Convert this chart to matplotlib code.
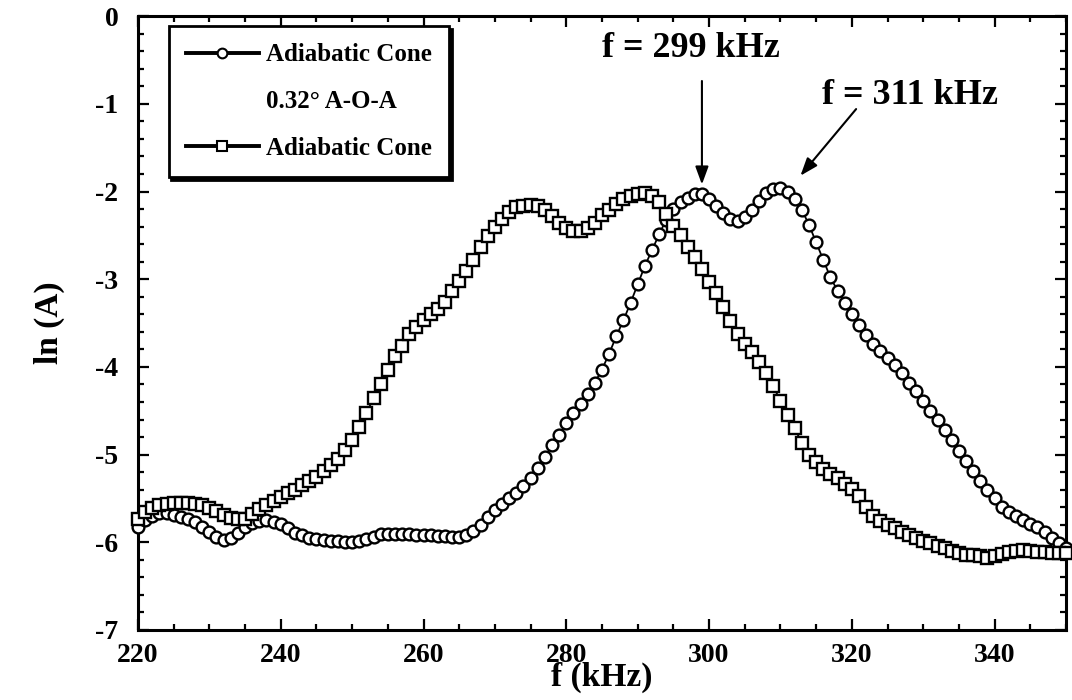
import numpy as np
import matplotlib
matplotlib.use("Agg")
import matplotlib.pyplot as plt
from matplotlib.lines import Line2D
from matplotlib.ticker import MultipleLocator

plt.rcParams['font.family'] = ['Liberation Serif', 'DejaVu Serif']
plt.rcParams['font.weight'] = 'bold'
plt.rcParams['axes.labelweight'] = 'bold'
plt.rcParams['axes.unicode_minus'] = False

# frequency sweep, 1 kHz steps
freq_khz = np.arange(220, 351)

# ln of amplitude, cone with 0.32 deg angle of attack (circles)
ln_amp_aoa = [
    -5.82, -5.75, -5.70, -5.67, -5.67, -5.69, -5.71, -5.73, -5.77, -5.82,
    -5.88, -5.94, -5.97, -5.95, -5.89, -5.83, -5.78, -5.76, -5.75, -5.77,
    -5.79, -5.84, -5.89, -5.92, -5.95, -5.96, -5.97, -5.98, -5.99, -6.00,
    -6.00, -5.99, -5.96, -5.94, -5.91, -5.91, -5.91, -5.91, -5.91, -5.92,
    -5.92, -5.92, -5.93, -5.93, -5.94, -5.94, -5.92, -5.87, -5.80, -5.71,
    -5.63, -5.56, -5.50, -5.44, -5.36, -5.27, -5.15, -5.03, -4.89, -4.78,
    -4.64, -4.53, -4.42, -4.31, -4.18, -4.03, -3.85, -3.65, -3.47, -3.27,
    -3.06, -2.85, -2.67, -2.49, -2.32, -2.20, -2.12, -2.07, -2.03, -2.03,
    -2.08, -2.16, -2.25, -2.31, -2.34, -2.29, -2.21, -2.11, -2.02, -1.97,
    -1.96, -2.01, -2.08, -2.21, -2.38, -2.58, -2.78, -2.98, -3.13, -3.27,
    -3.40, -3.52, -3.64, -3.74, -3.82, -3.90, -3.98, -4.07, -4.18, -4.28,
    -4.39, -4.50, -4.61, -4.72, -4.83, -4.96, -5.07, -5.19, -5.30, -5.40,
    -5.50, -5.60, -5.66, -5.70, -5.75, -5.79, -5.83, -5.88, -5.95, -6.01,
    -6.06,
]

# ln of amplitude, cone at zero angle (squares)
ln_amp_cone = [
    -5.74, -5.66, -5.61, -5.58, -5.56, -5.55, -5.55, -5.55, -5.56, -5.58,
    -5.61, -5.64, -5.69, -5.72, -5.74, -5.73, -5.68, -5.62, -5.57, -5.53,
    -5.48, -5.44, -5.40, -5.35, -5.30, -5.25, -5.19, -5.12, -5.05, -4.95,
    -4.83, -4.68, -4.52, -4.36, -4.20, -4.04, -3.88, -3.76, -3.63, -3.54,
    -3.47, -3.40, -3.34, -3.26, -3.13, -3.02, -2.91, -2.78, -2.63, -2.51,
    -2.41, -2.31, -2.23, -2.18, -2.16, -2.15, -2.17, -2.21, -2.28, -2.36,
    -2.42, -2.45, -2.45, -2.42, -2.36, -2.27, -2.21, -2.14, -2.09, -2.05,
    -2.03, -2.02, -2.05, -2.12, -2.26, -2.39, -2.50, -2.63, -2.75, -2.88,
    -3.03, -3.16, -3.32, -3.48, -3.63, -3.74, -3.83, -3.94, -4.07, -4.22,
    -4.39, -4.55, -4.70, -4.87, -5.00, -5.08, -5.16, -5.22, -5.27, -5.33,
    -5.39, -5.47, -5.60, -5.70, -5.76, -5.80, -5.84, -5.88, -5.92, -5.95,
    -5.98, -6.01, -6.04, -6.07, -6.10, -6.12, -6.14, -6.15, -6.16, -6.18,
    -6.16, -6.13, -6.11, -6.10, -6.09, -6.10, -6.11, -6.11, -6.12, -6.12,
    -6.12,
]

peak_labels = ['f = 299 kHz', 'f = 311 kHz']

fig = plt.figure(figsize=(10.72, 7.0), dpi=100)
ax = fig.add_axes([0.1287, 0.1, 0.8657, 0.877])

ax.plot(freq_khz, ln_amp_aoa, color='k', lw=1.3, marker='o', ms=8.5,
        mfc='white', mec='k', mew=1.7, clip_on=False, zorder=3)
ax.plot(freq_khz, ln_amp_cone, color='k', lw=1.3, marker='s', ms=8.5,
        mfc='white', mec='k', mew=1.7, clip_on=False, zorder=4)

ax.set_xlim(220, 350)
ax.set_ylim(-7, 0)
ax.set_xticks(range(220, 341, 20))
ax.set_yticks(range(-7, 1))
ax.xaxis.set_minor_locator(MultipleLocator(5))
ax.yaxis.set_minor_locator(MultipleLocator(0.2))
ax.tick_params(which='both', direction='in', top=True, right=True, width=1.6)
ax.tick_params(which='major', length=8)
ax.tick_params(which='minor', length=4.5)
ax.tick_params(axis='x', labelsize=20, pad=9)
ax.tick_params(axis='y', labelsize=20, pad=14)
for sp in ax.spines.values():
    sp.set_linewidth(2.2)

ax.set_xlabel('f (kHz)', fontsize=24, fontweight='bold', labelpad=-4)
ax.set_ylabel('ln (A)', fontsize=24, fontweight='bold', labelpad=22)

# peak markers
arr = dict(arrowstyle='-|>,head_length=0.6,head_width=0.22', color='k',
           lw=1.5, mutation_scale=18, shrinkA=0, shrinkB=0)
ax.text(297.4, -0.37, peak_labels[0], fontsize=26, ha='center', va='center')
ax.annotate('', xy=(299, -1.92), xytext=(299, -0.74), arrowprops=arr)
ax.text(328.2, -0.90, peak_labels[1], fontsize=26, ha='center', va='center')
ax.annotate('', xy=(312.8, -1.82), xytext=(320.6, -1.06), arrowprops=arr)

h_aoa = Line2D([], [], color='k', lw=2.8, marker='o', ms=7, mfc='white',
               mec='k', mew=1.5)
h_gap = Line2D([], [], color='none')
h_cone = Line2D([], [], color='k', lw=2.8, marker='s', ms=7.5, mfc='white',
                mec='k', mew=1.5)
leg = ax.legend([h_aoa, h_gap, h_cone],
                ['Adiabatic Cone', '0.32\u00b0 A-O-A', 'Adiabatic Cone'],
                loc='upper left', bbox_to_anchor=(0.033, 0.984),
                borderaxespad=0, fancybox=False, framealpha=1,
                edgecolor='k', shadow={'color': 'k', 'alpha': 1},
                prop={'size': 18, 'weight': 'bold'},
                handlelength=2.9, handletextpad=0.3, labelspacing=0.95,
                borderpad=0.7)
leg.get_frame().set_linewidth(2)

fig.savefig('out.png', dpi=100, facecolor='white')
